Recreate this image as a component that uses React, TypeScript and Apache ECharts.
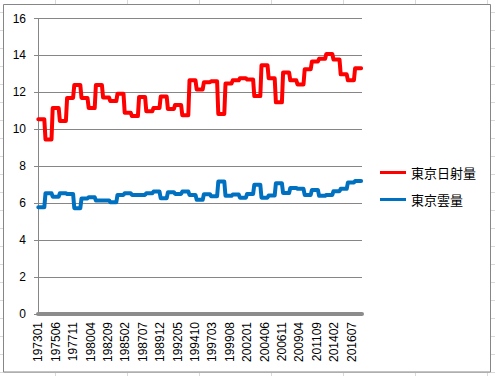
import { useEffect, useRef } from "react";
import * as echarts from "echarts";

// Annual values (one per year, 1973–2017), plotted monthly as in the original sheet
const startYear = 1973;
const endYear = 2017;
const radiation = [
  10.55, 9.45, 11.15, 10.45, 11.7, 12.4, 11.7, 11.15, 12.4, 11.72,
  11.53, 11.93, 10.9, 10.72, 11.75, 10.98, 11.15, 11.77, 11.1, 11.32,
  10.76, 12.65, 12.16, 12.55, 12.6, 10.83, 12.48, 12.65, 12.76, 12.7,
  11.8, 13.47, 12.76, 11.46, 13.08, 12.65, 12.43, 13.25, 13.67, 13.82,
  14.08, 13.78, 12.98, 12.65, 13.3,
];
const cloud = [
  5.78, 6.54, 6.35, 6.54, 6.5, 5.73, 6.26, 6.32, 6.15, 6.15,
  6.05, 6.45, 6.54, 6.45, 6.45, 6.54, 6.63, 6.27, 6.59, 6.5,
  6.63, 6.45, 6.18, 6.49, 6.38, 7.17, 6.4, 6.47, 6.3, 6.5,
  7.0, 6.3, 6.42, 7.08, 6.55, 6.82, 6.78, 6.45, 6.72, 6.4,
  6.45, 6.65, 6.78, 7.12, 7.2,
];
const seriesNames = ["東京日射量", "東京雲量"];
const yMin = 0;
const yMax = 16;
const yStep = 2;

export default function App() {
  const ref = useRef<HTMLDivElement>(null);
  useEffect(() => {
    if (!ref.current) return;
    const chart = echarts.init(ref.current, null, { renderer: "svg" });
    const years: number[] = [];
    for (let y = startYear; y <= endYear; y++) years.push(y);
    const categories = years.flatMap((y) =>
      Array.from({ length: 12 }, (_, m) => `${y}${String(m + 1).padStart(2, "0")}`)
    );
    const monthly = (a: number[]) => a.flatMap((v) => Array(12).fill(v));

    const cols = [55.5, 127.5, 199.5, 271.5, 343.5, 415.5, 487.5];
    const rows: number[] = [];
    for (let k = 0; k < 21; k++) rows.push(Math.round(11.7 + 18 * k) + 0.5);
    const sheetLines: any[] = [
      ...cols.map((x) => ({
        type: "line",
        z: -20,
        shape: { x1: x, y1: 0, x2: x, y2: 376 },
        style: { stroke: "#d9d9d9", lineWidth: 1 },
        silent: true,
      })),
      ...rows.map((y) => ({
        type: "line",
        z: -20,
        shape: { x1: 0, y1: y, x2: 495, y2: y },
        style: { stroke: "#d9d9d9", lineWidth: 1 },
        silent: true,
      })),
      {
        type: "rect",
        z: -10,
        shape: { x: 3.5, y: 4.5, width: 487, height: 367.5 },
        style: { fill: "#ffffff", stroke: "#868686", lineWidth: 1 },
        silent: true,
      },
    ];

    chart.setOption({
      animation: false,
      backgroundColor: "#ffffff",
      graphic: { elements: sheetLines },
      grid: { left: 38, right: 133, top: 18.5, bottom: 62, containLabel: false },
      legend: {
        orient: "vertical",
        left: 380,
        top: 166,
        padding: 0,
        itemGap: 14,
        itemWidth: 26,
        itemHeight: 3,
        icon: "rect",
        textStyle: { fontFamily: "Noto Sans CJK JP", fontSize: 13, color: "#000" },
        data: seriesNames,
      },
      xAxis: {
        type: "category",
        data: categories,
        boundaryGap: true,
        axisLine: { show: true, lineStyle: { color: "#8c8c8c", width: 4 } },
        axisTick: { show: false },
        axisLabel: {
          interval: 28,
          rotate: 90,
          margin: 8,
          fontFamily: "Liberation Sans",
          fontSize: 12,
          color: "#000",
        },
        splitLine: { show: false },
      },
      yAxis: {
        type: "value",
        min: yMin,
        max: yMax,
        interval: yStep,
        axisLine: { show: true, lineStyle: { color: "#868686", width: 1 } },
        axisTick: { show: true, length: 4, lineStyle: { color: "#868686" } },
        axisLabel: {
          margin: 12,
          fontFamily: "Liberation Sans",
          fontSize: 12,
          color: "#000",
        },
        splitLine: { show: true, lineStyle: { color: "#868686", width: 1 } },
      },
      series: [
        {
          name: seriesNames[0],
          type: "line",
          data: monthly(radiation),
          symbol: "none",
          color: "#ff0000",
          lineStyle: { color: "#ff0000", width: 4, join: "round", cap: "round" },
        },
        {
          name: seriesNames[1],
          type: "line",
          data: monthly(cloud),
          symbol: "none",
          color: "#0070c0",
          lineStyle: { color: "#0070c0", width: 4, join: "round", cap: "round" },
        },
      ],
    });
    return () => chart.dispose();
  }, []);
  return (
    <div
      ref={ref}
      style={{ position: "absolute", left: 0, top: 0, width: 495, height: 376 }}
    />
  );
}
